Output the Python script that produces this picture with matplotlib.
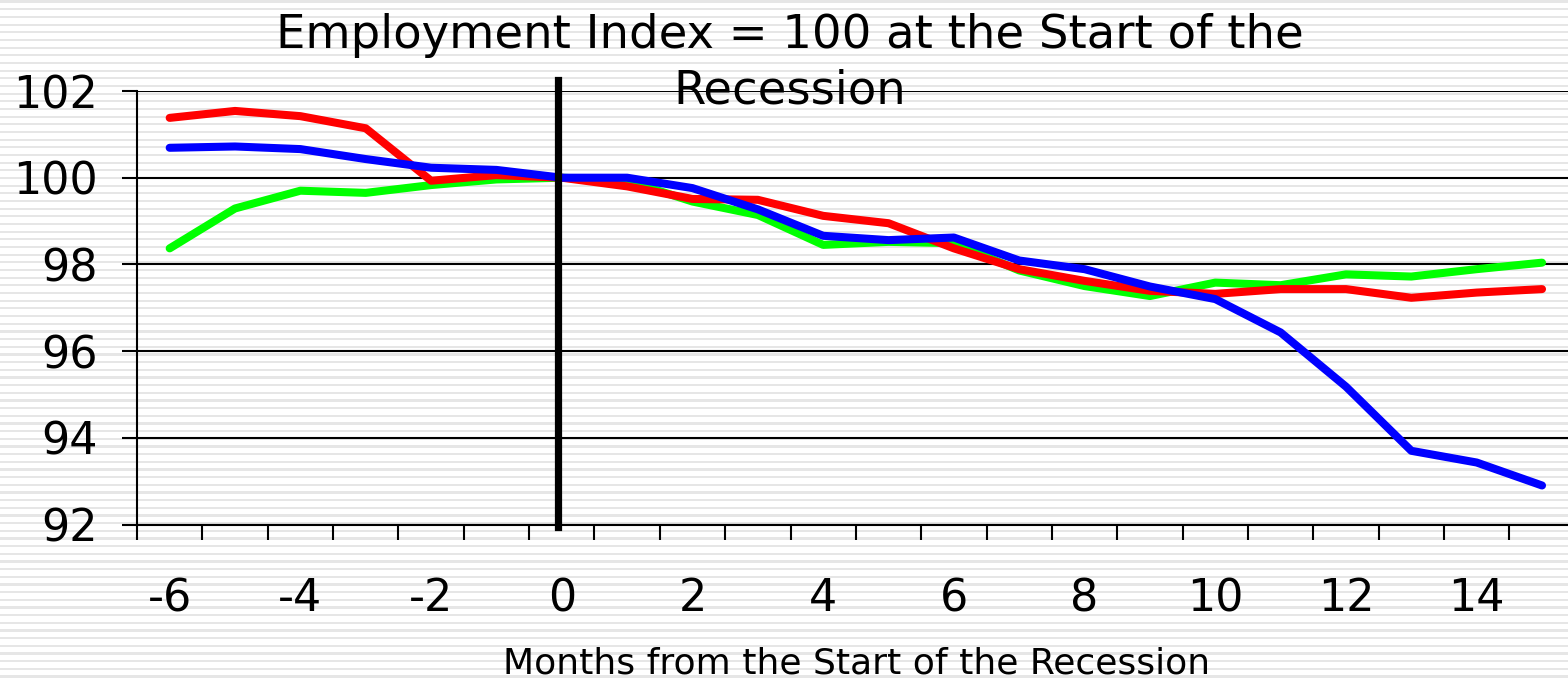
import numpy as np
import matplotlib
matplotlib.use("Agg")
import matplotlib.pyplot as plt

months = list(range(-6, 16))
red   = [101.38, 101.54, 101.42, 101.14, 99.93, 100.06, 100.00, 99.80, 99.51, 99.49, 99.12,
         98.95, 98.37, 97.89, 97.62, 97.39, 97.32, 97.43, 97.43, 97.23, 97.35, 97.43]
green = [98.37, 99.29, 99.70, 99.65, 99.83, 99.96, 100.00, 99.93, 99.45, 99.14, 98.45,
         98.52, 98.49, 97.86, 97.50, 97.27, 97.58, 97.52, 97.77, 97.72, 97.89, 98.04]
blue  = [100.69, 100.72, 100.66, 100.43, 100.23, 100.18, 100.00, 100.00, 99.76, 99.27, 98.66,
         98.56, 98.62, 98.09, 97.89, 97.49, 97.20, 96.43, 95.18, 93.70, 93.43, 92.90]
y_ticks  = [92, 94, 96, 98, 100, 102]
x_labels = [-6, -4, -2, 0, 2, 4, 6, 8, 10, 12, 14]

W, H = 1568, 679
fig = plt.figure(figsize=(W / 100, H / 100), dpi=100)

# striped slide background
bg = fig.add_axes([0, 0, 1, 1], zorder=-10)
rows = np.arange(H)
stripes = np.where((rows % 7.67) < 2.2, 0.9, 1.0).reshape(-1, 1)
bg.imshow(stripes, cmap="gray", vmin=0, vmax=1, aspect="auto",
          interpolation="nearest", extent=(0, 1, 0, 1))
bg.axis("off")

ax = fig.add_axes([137 / W, 1 - 524.5 / H, 1437.7 / W, (524.5 - 91) / H])
ax.patch.set_alpha(0)

ax.plot(months, green, color="#00ff00", lw=5.8, solid_capstyle="round", zorder=3)
ax.plot(months, red, color="#ff0000", lw=5.8, solid_capstyle="round", zorder=4)
ax.plot(months, blue, color="#0000ff", lw=5.8, solid_capstyle="round", zorder=5)
ax.plot([-0.06, -0.06], [91.95, 102.25], color="black", lw=5.2, zorder=6, clip_on=False)

ax.set_xlim(-6.5, 15.5)
ax.set_ylim(92, 102)
ax.set_yticks(y_ticks)
ax.set_yticklabels([str(v) for v in y_ticks], fontsize=32)
ax.set_xticks(x_labels)
ax.set_xticklabels([str(v) for v in x_labels], fontsize=32)
ax.set_xticks(np.arange(-6.5, 15.6, 1), minor=True)
ax.tick_params(axis="x", which="major", length=0, pad=38)
ax.tick_params(axis="x", which="minor", length=11, width=1.5, direction="out")
ax.tick_params(axis="y", which="major", length=11, width=1.5, pad=17)

ax.yaxis.grid(True, color="black", lw=1.5)
ax.set_axisbelow(True)
for s in ["top", "right"]:
    ax.spines[s].set_visible(False)
for s in ["left", "bottom"]:
    ax.spines[s].set_linewidth(1.5)

fig.text(790 / W, 1 - 63 / H, "Employment Index = 100 at the Start of the\nRecession",
         ha="center", va="center", fontsize=33.5, linespacing=1.3)
fig.text(857 / W, 1 - 663 / H, "Months from the Start of the Recession",
         ha="center", va="center", fontsize=26)

fig.savefig("out.png", dpi=100)
